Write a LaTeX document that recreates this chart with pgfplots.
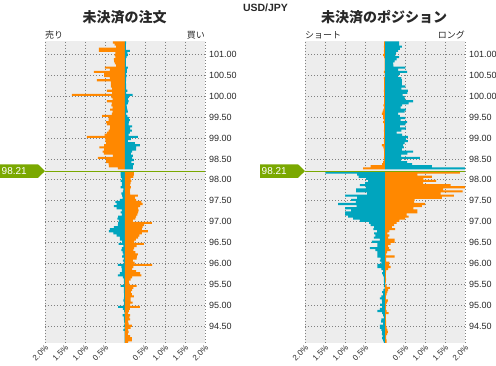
\documentclass[border=0pt]{standalone}
\usepackage{fontspec}
\setmainfont{Liberation Sans}
\newfontfamily\jp{Noto Sans CJK JP}
\usepackage{pgfplots}
\usepackage{pgfplotstable}
\pgfplotsset{compat=1.18}
\definecolor{cOr}{RGB}{255,136,0}
\definecolor{cTe}{RGB}{0,165,190}
\definecolor{cGr}{RGB}{122,168,0}
\definecolor{cBg}{RGB}{237,237,237}
\definecolor{cGrid}{RGB}{128,128,128}
\definecolor{cTxt}{RGB}{40,40,40}

\pgfplotstableread{
y L R
101.275 -0.30 0.03
101.225 -0.26 0.02
101.175 -0.22 0.02
101.125 -0.65 0.02
101.075 -0.65 0.12
101.025 -0.24 0.06
100.975 -0.26 0.07
100.925 -0.24 0.04
100.875 -0.28 0.02
100.825 -0.27 0.02
100.775 -0.25 0.02
100.725 -0.22 0.02
100.675 -0.50 0.07
100.625 -0.38 0.05
100.575 -0.78 0.05
100.525 -0.52 0.03
100.475 -0.52 0.04
100.425 -0.38 0.03
100.375 -0.70 0.03
100.325 -0.35 0.02
100.275 -0.35 0.03
100.225 -0.35 0.03
100.175 -0.32 0.03
100.125 -0.45 0.06
100.075 -0.32 0.03
100.025 -1.33 0.19
99.975 -0.34 0.10
99.925 -0.31 0.07
99.875 -0.45 0.09
99.825 -0.33 0.07
99.775 -0.34 0.04
99.725 -0.31 0.05
99.675 -0.37 0.06
99.625 -0.31 0.07
99.575 -0.33 0.03
99.525 -0.57 0.06
99.475 -0.41 0.10
99.425 -0.41 0.12
99.375 -0.47 0.10
99.325 -0.45 0.09
99.275 -0.37 0.18
99.225 -0.38 0.13
99.175 -0.41 0.17
99.125 -0.45 0.12
99.075 -0.51 0.09
99.025 -0.95 0.32
98.975 -0.49 0.15
98.925 -0.49 0.07
98.875 -0.47 0.25
98.825 -0.52 0.37
98.775 -0.64 0.28
98.725 -0.52 0.28
98.675 -0.56 0.18
98.625 -0.53 0.15
98.575 -0.30 0.20
98.525 -0.68 0.18
98.475 -0.47 0.22
98.425 -0.47 0.16
98.375 -0.41 0.22
98.325 -0.40 0.20
98.275 -0.18 0.20
}\leftabove

\pgfplotstableread{
y L R
98.175 -0.11 0.22
98.125 -0.11 0.22
98.075 -0.10 0.21
98.025 -0.08 0.14
97.975 -0.11 0.16
97.925 -0.08 0.14
97.875 -0.08 0.13
97.825 -0.11 0.15
97.775 -0.04 0.13
97.725 -0.05 0.12
97.675 -0.09 0.13
97.625 -0.07 0.32
97.575 -0.06 0.25
97.525 -0.13 0.28
97.475 -0.24 0.41
97.425 -0.21 0.44
97.375 -0.28 0.38
97.325 -0.21 0.33
97.275 -0.08 0.34
97.225 -0.11 0.33
97.175 -0.08 0.31
97.125 -0.17 0.28
97.075 -0.19 0.26
97.025 -0.15 0.20
96.975 -0.17 0.67
96.925 -0.18 0.48
96.875 -0.28 0.44
96.825 -0.38 0.42
96.775 -0.40 0.57
96.725 -0.29 0.42
96.675 -0.21 0.36
96.625 -0.13 0.33
96.575 -0.13 0.27
96.525 -0.07 0.23
96.475 -0.16 0.47
96.425 -0.04 0.29
96.375 -0.08 0.23
96.325 -0.09 0.21
96.275 -0.06 0.26
96.225 -0.04 0.32
96.175 -0.07 0.30
96.125 -0.03 0.29
96.075 -0.05 0.20
96.025 -0.03 0.24
95.975 -0.18 0.68
95.925 -0.09 0.21
95.875 -0.08 0.18
95.825 -0.08 0.28
95.775 -0.13 0.38
95.725 -0.18 0.41
95.675 -0.05 0.18
95.625 -0.03 0.14
95.575 -0.03 0.10
95.525 -0.02 0.11
95.475 -0.11 0.29
95.425 -0.03 0.21
95.375 -0.03 0.18
95.325 -0.03 0.15
95.275 -0.02 0.17
95.225 -0.02 0.22
95.175 -0.03 0.14
95.125 -0.04 0.14
95.075 -0.02 0.19
95.025 -0.03 0.13
94.975 -0.17 0.37
94.925 -0.05 0.12
94.875 -0.02 0.10
94.825 -0.01 0.08
94.775 -0.06 0.13
94.725 -0.03 0.11
94.675 -0.03 0.13
94.625 -0.02 0.08
94.575 -0.01 0.09
94.525 -0.03 0.17
94.475 -0.01 0.14
94.425 -0.04 0.08
94.375 -0.01 0.09
94.325 -0.01 0.07
94.275 -0.01 0.13
94.225 -0.01 0.17
94.175 -0.01 0.17
94.125 -0.01 0.08
}\leftbelow

\pgfplotstableread{
y L R
101.275 -0.02 0.35
101.225 -0.02 0.35
101.175 -0.03 0.42
101.125 -0.02 0.37
101.075 -0.03 0.33
101.025 -0.02 0.28
100.975 -0.05 0.26
100.925 -0.02 0.35
100.875 -0.01 0.29
100.825 -0.01 0.24
100.775 -0.01 0.20
100.725 -0.01 0.21
100.675 -0.01 0.51
100.625 -0.01 0.33
100.575 -0.03 0.55
100.525 -0.01 0.37
100.475 -0.01 0.33
100.425 -0.03 0.41
100.375 -0.02 0.42
100.325 -0.02 0.42
100.275 -0.02 0.42
100.225 -0.02 0.51
100.175 -0.02 0.41
100.125 -0.03 0.57
100.075 -0.02 0.56
100.025 -0.02 0.44
99.975 -0.02 0.49
99.925 -0.02 0.50
99.875 -0.02 0.70
99.825 -0.02 0.59
99.775 -0.04 0.43
99.725 -0.02 0.39
99.675 -0.04 0.52
99.625 -0.06 0.49
99.575 -0.08 0.33
99.525 -0.05 0.37
99.475 -0.05 0.51
99.425 -0.03 0.39
99.375 -0.05 0.55
99.325 -0.02 0.51
99.275 -0.02 0.37
99.225 -0.02 0.52
99.175 -0.03 0.41
99.125 -0.02 0.29
99.075 -0.02 0.43
99.025 -0.03 0.57
98.975 -0.02 0.53
98.925 -0.03 0.57
98.875 -0.02 0.49
98.825 -0.08 0.45
98.775 -0.04 0.47
98.725 -0.03 0.42
98.675 -0.02 0.70
98.625 -0.02 0.56
98.575 -0.02 0.40
98.525 -0.03 0.87
98.475 -0.03 0.40
98.425 -0.05 0.55
98.375 -0.07 0.68
98.325 -0.36 1.17
98.275 -0.55 2.05
}\rightabove

\pgfplotstableread{
y L R
98.175 -1.49 1.87
98.125 -0.70 0.81
98.075 -0.66 1.17
98.025 -0.47 0.96
97.975 -0.42 1.28
97.925 -0.50 0.95
97.875 -0.63 1.64
97.825 -0.48 2.02
97.775 -0.72 1.45
97.725 -0.72 1.94
97.675 -0.45 1.39
97.625 -1.00 1.72
97.575 -0.70 1.42
97.525 -0.85 0.74
97.475 -0.73 0.73
97.425 -1.17 1.00
97.375 -0.71 0.92
97.325 -1.00 0.71
97.275 -0.85 0.81
97.225 -1.00 0.81
97.175 -1.00 0.54
97.125 -0.92 0.59
97.075 -0.80 0.50
97.025 -0.63 0.36
96.975 -0.40 0.29
96.925 -0.36 0.23
96.875 -0.27 0.17
96.825 -0.29 0.25
96.775 -0.20 0.11
96.725 -0.27 0.06
96.675 -0.24 0.11
96.625 -0.28 0.08
96.575 -0.13 0.24
96.525 -0.33 0.24
96.475 -0.19 0.14
96.425 -0.19 0.08
96.375 -0.38 0.10
96.325 -0.24 0.14
96.275 -0.19 0.05
96.225 -0.19 0.03
96.175 -0.19 0.24
96.125 -0.11 0.03
96.075 -0.13 0.03
96.025 -0.09 0.11
95.975 -0.19 0.10
95.925 -0.19 0.14
95.875 -0.09 0.08
95.825 -0.05 0.03
95.775 -0.07 0.02
95.725 -0.05 0.02
95.675 -0.03 0.02
95.625 -0.03 0.03
95.575 -0.03 0.02
95.525 -0.02 0.01
95.475 -0.03 0.04
95.425 -0.01 0.12
95.375 -0.04 0.08
95.325 -0.07 0.06
95.275 -0.05 0.04
95.225 -0.09 0.02
95.175 -0.13 0.02
95.125 -0.08 0.07
95.075 -0.07 0.05
95.025 -0.12 0.02
94.975 -0.07 0.03
94.925 -0.13 0.02
94.875 -0.19 0.04
94.825 -0.07 0.09
94.775 -0.05 0.02
94.725 -0.03 0.02
94.675 -0.09 0.02
94.625 -0.10 0.03
94.575 -0.05 0.03
94.525 -0.13 0.03
94.475 -0.13 0.04
94.425 -0.09 0.06
94.375 -0.07 0.07
94.325 -0.08 0.05
94.275 -0.06 0.03
94.225 -0.07 0.03
94.175 -0.05 0.04
94.125 -0.03 0.04
}\rightbelow

\pgfplotsset{
  panel/.style={
    scale only axis, width=160pt, height=301.3pt,
    anchor=south west,
    xmin=-2, xmax=2, ymin=94.12, ymax=101.30,
    xbar, bar width=0.05, bar shift=0pt,
    axis background/.style={fill=cBg},
    axis line style={draw=none},
    major tick length=0pt,
    xtick={-2,-1.5,-1,-0.5,0.5,1,1.5,2},
    xticklabels={2.0\%,1.5\%,1.0\%,0.5\%,0.5\%,1.0\%,1.5\%,2.0\%},
    ytick={94.5,95,95.5,96,96.5,97,97.5,98,98.5,99,99.5,100,100.5,101},
    yticklabel pos=right,
    /pgf/number format/assume math mode=true,
    y tick label style={/pgf/number format/fixed, /pgf/number format/fixed zerofill,
      /pgf/number format/precision=2, anchor=west, inner sep=0pt, xshift=4pt,
      font=\fontsize{9}{10}\selectfont, text=cTxt},
    x tick label style={font=\fontsize{8}{9}\selectfont, text=cTxt, inner sep=0pt,
      xshift=2pt, yshift=-4pt, rotate=45, anchor=east},
    grid=major,
    major grid style={cGrid, line width=0.8pt, dash pattern=on 0.8pt off 2.2pt},
  },
}

\begin{document}
\begin{tikzpicture}
\useasboundingbox (0,0) rectangle (496pt,365pt);

\begin{axis}[panel, at={(45pt,22.3pt)}]
  \addplot[fill=cOr, draw=none] table[x=L, y=y]{\leftabove};
  \addplot[fill=cTe, draw=none] table[x=R, y=y]{\leftabove};
  \addplot[fill=cTe, draw=none] table[x=L, y=y]{\leftbelow};
  \addplot[fill=cOr, draw=none] table[x=R, y=y]{\leftbelow};
  \coordinate (LA) at (axis cs:-2,98.21);
  \coordinate (LB) at (axis cs:2,98.21);
\end{axis}

\begin{axis}[panel, at={(305pt,22.3pt)}]
  \addplot[fill=cOr, draw=none] table[x=L, y=y]{\rightabove};
  \addplot[fill=cTe, draw=none] table[x=R, y=y]{\rightabove};
  \addplot[fill=cTe, draw=none] table[x=L, y=y]{\rightbelow};
  \addplot[fill=cOr, draw=none] table[x=R, y=y]{\rightbelow};
  \coordinate (RA) at (axis cs:-2,98.21);
  \coordinate (RB) at (axis cs:2,98.21);
\end{axis}

% current price line and labels
\foreach \a/\b in {LA/LB, RA/RB}{
  \draw[cGr, line width=1.1pt] (\a) -- (\b);
  \fill[cGr] ([xshift=-45pt,yshift=-6.8pt]\a) -- ([xshift=-7pt,yshift=-6.8pt]\a) -- (\a)
     -- ([xshift=-7pt,yshift=6.8pt]\a) -- ([xshift=-45pt,yshift=6.8pt]\a) -- cycle;
  \node[anchor=west, text=white, inner sep=0pt, font=\fontsize{10}{10}\selectfont]
     at ([xshift=-43.5pt]\a) {98.21};
}

% titles
\node[text=cTxt, font=\bfseries\fontsize{10.5}{11}\selectfont] at (265.5pt,357.5pt) {USD/JPY};
\node[text=cTxt, font=\jp\bfseries\fontsize{14}{15}\selectfont] at (124.5pt,347.5pt) {未決済の注文};
\node[text=cTxt, font=\jp\bfseries\fontsize{14}{15}\selectfont] at (384pt,347.5pt) {未決済のポジション};
\node[text=cTxt, anchor=base west, inner sep=0pt, font=\jp\fontsize{9}{10}\selectfont] at (45pt,326pt) {売り};
\node[text=cTxt, anchor=base east, inner sep=0pt, font=\jp\fontsize{9}{10}\selectfont] at (205pt,326pt) {買い};
\node[text=cTxt, anchor=base west, inner sep=0pt, font=\jp\fontsize{9}{10}\selectfont] at (305pt,326pt) {ショート};
\node[text=cTxt, anchor=base east, inner sep=0pt, font=\jp\fontsize{9}{10}\selectfont] at (465pt,326pt) {ロング};
\end{tikzpicture}
\end{document}
